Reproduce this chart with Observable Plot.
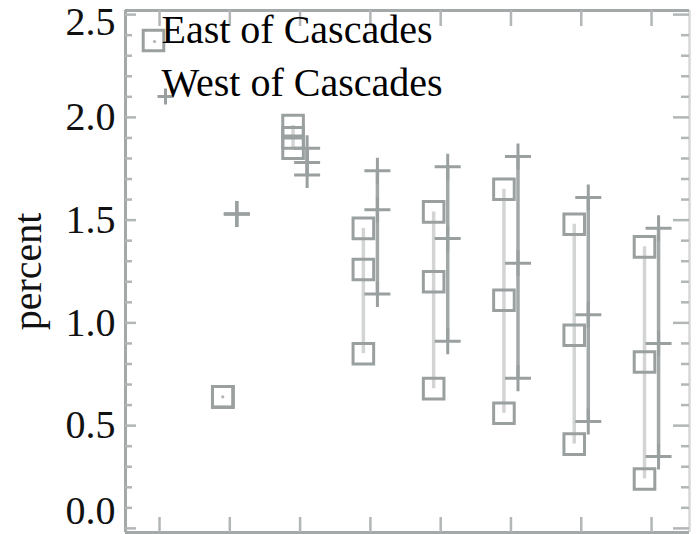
<!DOCTYPE html>
<html>
<head>
<meta charset="utf-8">
<script src="https://cdn.jsdelivr.net/npm/d3@7"></script>
<script src="https://cdn.jsdelivr.net/npm/@observablehq/plot@0.6"></script>
<style>
  html, body { margin: 0; padding: 0; background: #fff; }
  #chart { width: 700px; height: 534px; }
</style>
</head>
<body>
<div id="chart"></div>
<script>
// ---- data ----
const groups    = [1, 2, 3, 4, 5, 6, 7];
const eastHigh  = [0.64, 1.96, 1.46, 1.54, 1.65, 1.48, 1.37];
const eastMid   = [0.64, 1.90, 1.26, 1.20, 1.11, 0.94, 0.81];
const eastLow   = [0.64, 1.85, 0.85, 0.68, 0.56, 0.41, 0.24];
const westHigh  = [1.53, 1.85, 1.74, 1.76, 1.81, 1.61, 1.46];
const westMid   = [1.53, 1.78, 1.55, 1.41, 1.29, 1.04, 0.90];
const westLow   = [1.53, 1.72, 1.14, 0.91, 0.73, 0.52, 0.35];
const legendLabels = ["East of Cascades", "West of Cascades"];
const yLabel = "percent";
const xTicks = [0, 1, 2, 3, 4, 5, 6, 7];
const yMajor = [0, 0.5, 1.0, 1.5, 2.0, 2.5];
const yMinor = [0.1,0.2,0.3,0.4,0.6,0.7,0.8,0.9,1.1,1.2,1.3,1.4,1.6,1.7,1.8,1.9,2.1,2.2,2.3,2.4];

// ---- layout ----
const W = 700, H = 534;
const mL = 125, mR = 11, mT = 10, mB = 2;
const innerW = W - mL - mR, innerH = H - mT - mB;
const xDomain = [-0.484, 7.54];
const yDomain = [-0.02, 2.52];
const off = 0.1;

const rows = groups.map((g, i) => ({
  g, eh: eastHigh[i], em: eastMid[i], el: eastLow[i],
  wh: westHigh[i], wm: westMid[i], wl: westLow[i]
}));
const east = rows.flatMap(r => [r.eh, r.em, r.el].map(v => ({g: r.g, v})));
const west = rows.flatMap(r => [r.wh, r.wm, r.wl].map(v => ({g: r.g, v})));

const plusSym = { draw(ctx, size) { const r = Math.sqrt(size / Math.PI);
  ctx.moveTo(-r, 0); ctx.lineTo(r, 0); ctx.moveTo(0, -r); ctx.lineTo(0, r); } };
const squareSym = { draw(ctx, size) { const r = Math.sqrt(size / Math.PI);
  ctx.rect(-r, -r, 2 * r, 2 * r); } };

const axisCol = "#a3a8a8", tickCol = "#b2b6b6";
const sqCol = "#9aa0a0", plusCol = "#9aa0a0", westLineCol = "#a2a8a8", eastLineCol = "#d3d5d5";
const font = "'Liberation Serif', 'Times New Roman', serif";

const chart = Plot.plot({
  width: W, height: H,
  marginLeft: mL, marginRight: mR, marginTop: mT, marginBottom: mB,
  x: {domain: xDomain, axis: null},
  y: {domain: yDomain, axis: null},
  style: {fontFamily: font, fontSize: "40px", background: "#fff", overflow: "visible"},
  marks: [
    // frame
    Plot.ruleX([xDomain[1]], {stroke: "#d6d8d8", strokeWidth: 2.5}),
    Plot.ruleY([yDomain[1]], {stroke: axisCol, strokeWidth: 3}),
    Plot.ruleY([yDomain[0]], {stroke: axisCol, strokeWidth: 3}),
    Plot.ruleX([xDomain[0]], {stroke: axisCol, strokeWidth: 3}),
    // y ticks (inward), left and right
    Plot.ruleY(yMajor, {stroke: tickCol, strokeWidth: 2.5, insetRight: innerW - 11}),
    Plot.ruleY(yMinor, {stroke: tickCol, strokeWidth: 2.5, insetRight: innerW - 7}),
    Plot.ruleY(yMajor, {stroke: tickCol, strokeWidth: 2.5, insetLeft: innerW - 16}),
    Plot.ruleY(yMinor, {stroke: tickCol, strokeWidth: 2.5, insetLeft: innerW - 8}),
    // x ticks (inward), bottom and top
    Plot.ruleX(xTicks, {stroke: tickCol, strokeWidth: 2.5, insetTop: innerH - 15}),
    Plot.ruleX(xTicks, {stroke: tickCol, strokeWidth: 2.5, insetBottom: innerH - 16}),
    // y tick labels
    Plot.text(yMajor.filter(d => d > 0 && d < 2.5), {y: d => d, frameAnchor: "left", dx: -10,
      textAnchor: "end", text: d => d.toFixed(1), fill: "#111"}),
    Plot.text(yMajor.filter(d => d === 2.5), {y: d => d, frameAnchor: "left", dx: -10, dy: 8,
      textAnchor: "end", text: d => d.toFixed(1), fill: "#111"}),
    Plot.text(yMajor.filter(d => d === 0), {y: d => d, frameAnchor: "left", dx: -10, dy: -17,
      textAnchor: "end", text: d => d.toFixed(1), fill: "#111"}),
    // y label
    Plot.text([yLabel], {frameAnchor: "left", dx: -97, rotate: -90, textAnchor: "middle",
      text: d => d, fill: "#111"}),
    // East of Cascades: light range line + squares
    Plot.ruleX(rows, {x: d => d.g - off, y1: "eh", y2: "el", stroke: eastLineCol, strokeWidth: 3.5}),
    Plot.dot(rows.filter(d => d.eh === d.el), {x: d => d.g - off, y: "em", r: 1.6, fill: "#b0b4b4", stroke: "none"}),
    Plot.dot(east, {x: d => d.g - off, y: "v", symbol: squareSym, r: 10.3, fill: "none", stroke: sqCol, strokeWidth: 3}),
    // West of Cascades: darker range line + plus symbols
    Plot.ruleX(rows, {x: d => d.g + off, y1: "wh", y2: "wl", stroke: westLineCol, strokeWidth: 3.5}),
    Plot.dot(west, {x: d => d.g + off, y: "v", symbol: plusSym, r: 13, fill: "none", stroke: plusCol, strokeWidth: 3}),
    // legend symbols
    Plot.dot([legendLabels[0]], {x: () => xDomain[0], y: () => yDomain[1], dx: 28, dy: 30,
      symbol: squareSym, r: 10.3, fill: "none", stroke: sqCol, strokeWidth: 3}),
    Plot.dot([legendLabels[0]], {x: () => xDomain[0], y: () => yDomain[1], dx: 29, dy: 31, r: 1.6, fill: "#b0b4b4", stroke: "none"}),
    Plot.dot([legendLabels[1]], {x: () => xDomain[0], y: () => yDomain[1], dx: 40, dy: 86,
      symbol: plusSym, r: 8, fill: "none", stroke: plusCol, strokeWidth: 3}),
    // legend text
    Plot.text([legendLabels[0]], {frameAnchor: "top-left", dx: 36, dy: 4,
      text: d => d, textAnchor: "start", lineAnchor: "top", fill: "#000", letterSpacing: 2}),
    Plot.text([legendLabels[1]], {frameAnchor: "top-left", dx: 36, dy: 57,
      text: d => d, textAnchor: "start", lineAnchor: "top", fill: "#000", letterSpacing: 2}),
  ]
});
document.getElementById("chart").appendChild(chart);
</script>
</body>
</html>
